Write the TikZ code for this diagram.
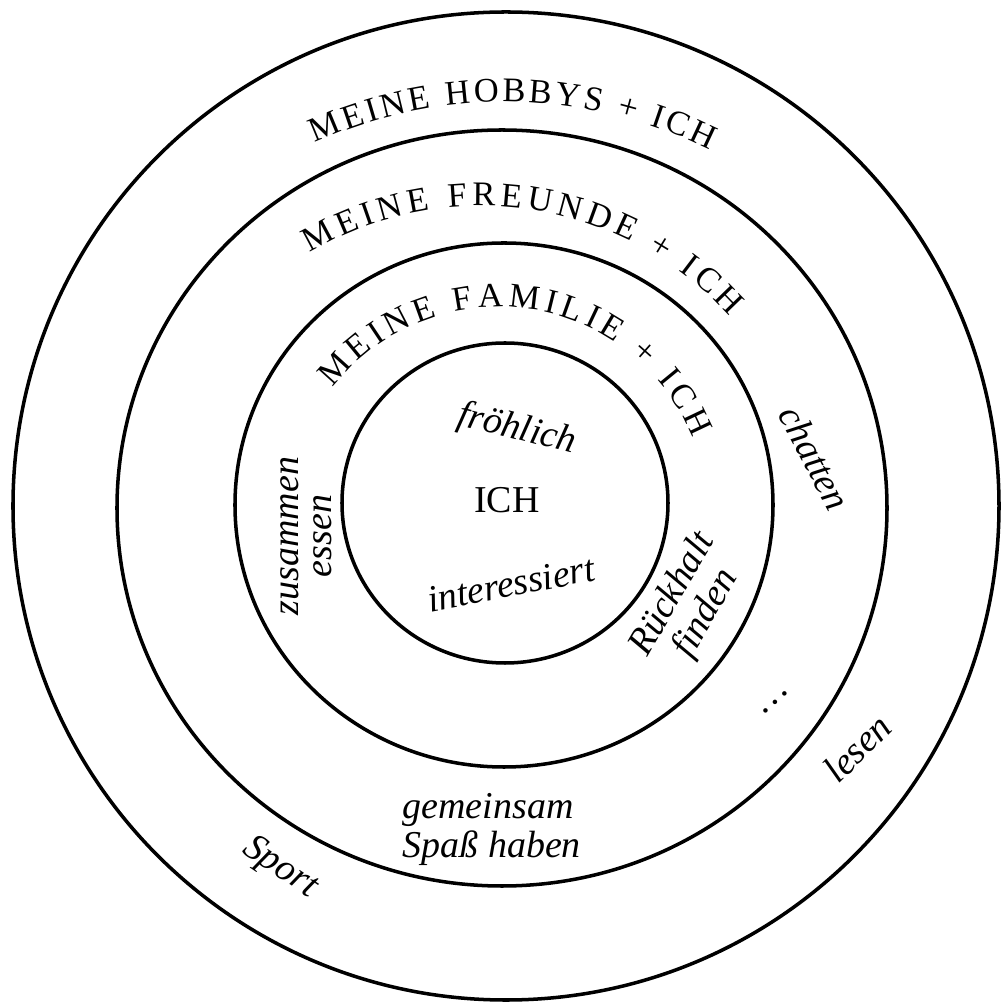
\documentclass[tikz,border=0pt]{standalone}
\usepackage{fontspec}
\setmainfont{Liberation Serif}
\usetikzlibrary{decorations.text}

\newcommand{\ringfont}{\fontsize{9.8}{11}\selectfont}
\newcommand{\wordfont}{\fontsize{10.8}{12}\selectfont\itshape}

\begin{document}
\begin{tikzpicture}[x=0.1mm, y=0.1mm, ring/.style={draw, line width=1pt}, word/.style={inner sep=0pt, font=\wordfont, align=center}, ringtext/.style={decorate, decoration={text along path, text={|\ringfont|#1}, text align={fit to path}}}]
	\useasboundingbox[fill=white] (-505,-499) rectangle (495,505);

	% rings
	\draw[ring] (0,2) ellipse [x radius=163, y radius=160];
	\draw[ring] (-1,0) ellipse [x radius=269, y radius=262];
	\draw[ring] (-3,-3) ellipse [x radius=385, y radius=378];
	\draw[ring] (1,-1) ellipse [x radius=493, y radius=494];

	% ring titles
	\path[ringtext={MEINE FAMILIE + ICH}] (-6.5,-12) ++(142:210) arc [start angle=142, end angle=22, radius=210];
	\path[ringtext={MEINE FREUNDE + ICH}] (-24,-36) ++(120.7:335) arc [start angle=120.7, end angle=42, radius=335];
	\path[ringtext={MEINE HOBBYS + ICH}] (0,-57) ++(114.4:460) arc [start angle=114.4, end angle=63.5, radius=460];

	% nodes
	\node[inner sep=0pt, font=\fontsize{10.8}{12}\selectfont] (ich) at (2,5) {ICH}; %
	\node[word, rotate=-14] (froh) at (12,75) {fröhlich}; %
	\node[word, rotate=11] (inter) at (6,-79) {interessiert}; %
	\node[word, rotate=90, font=\fontsize{10.8}{9.5}\selectfont\itshape] (essen) at (-199,-31) {zusammen\\essen}; %
	\node[word, rotate=60, font=\fontsize{10.8}{11}\selectfont\itshape] (halt) at (185,-99) {Rückhalt\\finden}; %
	\node[word, rotate=-62] (chat) at (310,47) {chatten}; %
	\node[word, rotate=42] (dots) at (271,-197) {\ldots}; %
	\node[word, rotate=45] (lesen) at (352,-243) {lesen}; %
	\node[word, anchor=base west] (gem) at (-103,-313) {gemeinsam}; %
	\node[word, anchor=base west] (spass) at (-103,-352) {Spaß haben}; %
	\node[word, rotate=-34] (sport) at (-225,-363) {Sport}; %
\end{tikzpicture}
\end{document}
